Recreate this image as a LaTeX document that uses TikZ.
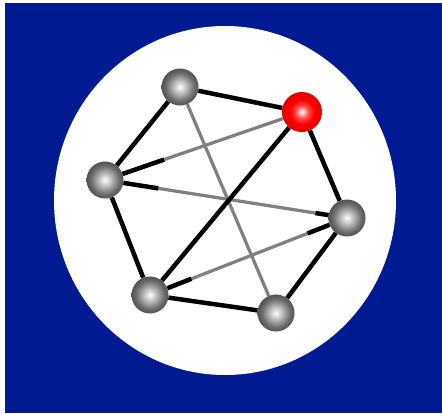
\documentclass[tikz,border=0pt]{standalone}
\usepackage{tikz}
\usetikzlibrary{calc, backgrounds}
\definecolor{navy}{RGB}{0,26,145}
\pgfdeclareradialshading{greyball}{\pgfpointorigin}{color(0bp)=(white); color(9bp)=(gray!55); color(19bp)=(gray!85!black); color(25bp)=(black!68); color(50bp)=(black!68)}
\pgfdeclareradialshading{redball}{\pgfpointorigin}{color(0bp)=(white); color(8bp)=(red!70!white); color(15bp)=(red); color(25bp)=(red!88!black); color(50bp)=(red!88!black)}

\begin{document}
\begin{tikzpicture}[x=0.5mm, y=-0.5mm,
    ball/.style={circle, minimum size=18.5mm, inner sep=0pt, shading=greyball},
    hot/.style={ball, minimum size=20mm, shading=redball},
    link/.style={line width=6.4pt, black},
    faint/.style={line width=4.6pt, gray}]
    \useasboundingbox (0,0) rectangle (442,413);
    \node[ball] (t) at (180,87) {};
    \node[hot] (r) at (302,112) {};
    \node[ball] (l) at (105,180) {};
    \node[ball] (e) at (347,218) {};
    \node[ball] (bl) at (150,295) {};
    \node[ball] (b) at (276,313) {};
    \begin{scope}[on background layer]
      \fill[navy] (5,3) rectangle (442,413);
      \fill[white] (225,200.5) ellipse [x radius=171, y radius=174.5];
      % diagonals, grey with black ends
      \draw[faint] (t) -- (b);
      \draw[faint] (l) -- (r);
      \draw[faint] (l) -- (e);
      \draw[faint] (bl) -- (e);
      \coordinate (lr) at ($(l)!0.30!(r)$);
      \coordinate (le1) at ($(l)!0.22!(e)$);
      \coordinate (le2) at ($(e)!0.13!(l)$);
      \coordinate (be1) at ($(bl)!0.21!(e)$);
      \coordinate (be2) at ($(e)!0.20!(bl)$);
      \draw[link] (l) -- (lr);
      \draw[link] (l) -- (le1);
      \draw[link] (e) -- (le2);
      \draw[link] (bl) -- (be1);
      \draw[link] (e) -- (be2);
      % ring
      \draw[link] (t) -- (r) -- (e) -- (b) -- (bl) -- (l) -- (t);
      \draw[link] (bl) -- (r);
    \end{scope}
\end{tikzpicture}
\end{document}
